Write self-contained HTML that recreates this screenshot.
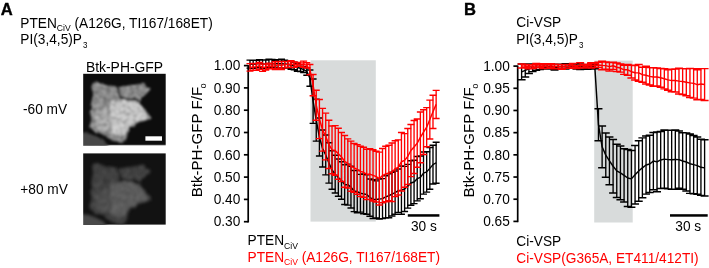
<!DOCTYPE html>
<html><head><meta charset="utf-8"><style>
html,body{margin:0;padding:0;background:#fff;width:709px;height:268px;overflow:hidden}
svg{display:block;will-change:transform}
text{font-family:"Liberation Sans",sans-serif}
</style></head><body>
<svg width="709" height="268" viewBox="0 0 709 268" font-family="Liberation Sans, sans-serif">
<defs><filter id="bl1" x="-10%" y="-10%" width="120%" height="120%"><feGaussianBlur stdDeviation="1.6"/></filter><filter id="bl2" x="-10%" y="-10%" width="120%" height="120%"><feGaussianBlur stdDeviation="2.2"/></filter></defs>
<rect width="709" height="268" fill="#fff"/>
<text transform="translate(0.7,14.9) scale(1,1.04)" font-size="16.6" font-weight="bold" stroke="#000" stroke-width="0.35">A</text>
<text transform="translate(464.1,14.9) scale(1,1.04)" font-size="16.6" font-weight="bold" stroke="#000" stroke-width="0.35">B</text>
<text transform="translate(20.3,27.7) scale(1,1.04)" font-size="13.7">PTEN<tspan font-size="8.6" dy="3.3">CiV</tspan><tspan dy="-3.3"> (A126G, TI167/168ET)</tspan></text>
<text transform="translate(20.3,43.8) scale(1,1.04)" font-size="13.7">PI(3,4,5)P<tspan font-size="8" dy="3.9" dx="1">3</tspan></text>
<text transform="translate(516.3,27.3) scale(1,1.04)" font-size="13.7">Ci-VSP</text>
<text transform="translate(516.3,44.4) scale(1,1.04)" font-size="13.7">PI(3,4,5)P<tspan font-size="8" dy="3.9" dx="1">3</tspan></text>
<text transform="translate(124.5,71.8) scale(1,1.04)" font-size="13.9" text-anchor="middle">Btk-PH-GFP</text>
<text transform="translate(23,113.8) scale(1,1.04)" font-size="13.7">-60 mV</text>
<text transform="translate(20.3,193.8) scale(1,1.04)" font-size="13.7">+80 mV</text>
<svg x="83.2" y="73.8" width="82.6" height="71.3" viewBox="0 0 82.6 71.3" overflow="hidden">
<defs><filter id="c1" x="-20%" y="-20%" width="140%" height="140%"><feTurbulence type="fractalNoise" baseFrequency="0.12" numOctaves="2" seed="7" result="t"/><feDisplacementMap in="SourceGraphic" in2="t" scale="5" xChannelSelector="R" yChannelSelector="G" result="d"/><feGaussianBlur in="d" stdDeviation="1.1"/></filter><filter id="c1n" x="0" y="0" width="100%" height="100%"><feTurbulence type="fractalNoise" baseFrequency="0.3" numOctaves="2" seed="3"/><feColorMatrix type="matrix" values="0 0 0 0 1  0 0 0 0 1  0 0 0 0 1  2.2 0 0 0 -1.0"/><feGaussianBlur stdDeviation="0.5"/></filter><filter id="c1m" x="0" y="0" width="100%" height="100%"><feTurbulence type="fractalNoise" baseFrequency="0.3" numOctaves="2" seed="3"/><feColorMatrix type="matrix" values="0 0 0 0 0  0 0 0 0 0  0 0 0 0 0  -2.2 0 0 0 1.2"/><feGaussianBlur stdDeviation="0.5"/></filter><clipPath id="c1c"><polygon points="11.2,6.9 16.8,9.4 23.3,11.4 28.8,12.5 33.3,13.0 35.6,16.2 38.3,12.8 41.2,12.2 49.8,11.2 56.3,10.2 60.7,7.7 63.3,12.7 67.4,15.0 62.7,20.3 58.0,23.7 56.6,29.7 61.0,34.8 65.3,39.1 67.0,45.1 61.0,46.8 52.4,50.2 47.3,53.7 44.7,64.0 38.7,68.2 30.3,67.1 24.2,64.0 19.6,60.2 11.3,57.9 7.4,54.1 6.7,44.9 9.2,27.0 8.5,16.3"/></clipPath></defs>
<rect x="0" y="0" width="82.6" height="71.3" fill="#0d0d0d"/>
<g filter="url(#c1)">
<polygon points="-3.2,58.2 4.8,59.2 12.8,62.2 20.8,66.2 26.8,74.2 -3.2,74.2" fill="#464646"/>
<polygon points="11.2,6.9 16.8,9.4 23.3,11.4 28.8,12.5 33.3,13.0 35.6,16.2 38.3,12.8 41.2,12.2 49.8,11.2 56.3,10.2 60.7,7.7 63.3,12.7 67.4,15.0 62.7,20.3 58.0,23.7 56.6,29.7 61.0,34.8 65.3,39.1 67.0,45.1 61.0,46.8 52.4,50.2 47.3,53.7 44.7,64.0 38.7,68.2 30.3,67.1 24.2,64.0 19.6,60.2 11.3,57.9 7.4,54.1 6.7,44.9 9.2,27.0 8.5,16.3" fill="#8c8c8c"/>
<polygon points="35.8,13.2 41.2,12.2 49.8,11.2 56.3,10.2 60.7,7.7 63.3,12.7 67.4,15.0 62.7,20.3 58.0,23.7 56.3,27.2 44.8,24.7 37.8,23.7" fill="#8a8a8a"/>
<polygon points="28.8,27.2 41.8,25.7 54.8,28.2 59.8,34.2 63.8,40.2 62.8,45.2 52.8,48.2 45.8,52.2 42.8,60.2 35.8,63.2 28.8,59.2 24.8,50.2 25.8,36.2" fill="#c8c8c8"/>
<polygon points="12.8,38.2 24.8,32.2 28.8,44.2 26.8,56.2 16.8,57.2 10.8,50.2" fill="#aaaaaa"/>
<polyline points="34.3,12.7 36.3,18.2 37.2,23.7 45.2,24.8 56.0,27.7" stroke="#2d2d2d" stroke-width="2.8" fill="none"/>
<polyline points="16.8,23.2 22.8,25.2 28.8,27.2" stroke="#6e6e6e" stroke-width="1.5" fill="none"/>
<g clip-path="url(#c1c)" opacity="0.32"><rect x="0" y="0" width="82.6" height="71.3" filter="url(#c1n)"/><rect x="0" y="0" width="82.6" height="71.3" filter="url(#c1m)"/></g>
</g>
</svg>
<svg x="83.2" y="153.4" width="82.6" height="71.3" viewBox="0 0 82.6 71.3" overflow="hidden">
<defs><filter id="c2" x="-20%" y="-20%" width="140%" height="140%"><feTurbulence type="fractalNoise" baseFrequency="0.12" numOctaves="2" seed="7" result="t"/><feDisplacementMap in="SourceGraphic" in2="t" scale="5" xChannelSelector="R" yChannelSelector="G" result="d"/><feGaussianBlur in="d" stdDeviation="1.8"/></filter><filter id="c2n" x="0" y="0" width="100%" height="100%"><feTurbulence type="fractalNoise" baseFrequency="0.3" numOctaves="2" seed="3"/><feColorMatrix type="matrix" values="0 0 0 0 1  0 0 0 0 1  0 0 0 0 1  2.2 0 0 0 -1.0"/><feGaussianBlur stdDeviation="0.5"/></filter><filter id="c2m" x="0" y="0" width="100%" height="100%"><feTurbulence type="fractalNoise" baseFrequency="0.3" numOctaves="2" seed="3"/><feColorMatrix type="matrix" values="0 0 0 0 0  0 0 0 0 0  0 0 0 0 0  -2.2 0 0 0 1.2"/><feGaussianBlur stdDeviation="0.5"/></filter><clipPath id="c2c"><polygon points="11.2,8.9 16.8,11.4 23.3,13.4 28.8,14.5 33.3,15.0 35.6,18.2 38.3,14.8 41.2,14.2 49.8,13.2 56.3,12.2 60.7,9.7 63.3,14.7 67.4,17.0 62.7,22.3 58.0,25.7 56.6,31.7 61.0,36.8 65.3,41.1 67.0,47.1 61.0,48.8 52.4,52.2 47.3,55.7 44.7,66.0 38.7,70.2 30.3,69.1 24.2,66.0 19.6,62.2 11.3,59.9 7.4,56.1 6.7,46.9 9.2,29.0 8.5,18.3"/></clipPath></defs>
<rect x="0" y="0" width="82.6" height="71.3" fill="#121212"/>
<g filter="url(#c2)">
<polygon points="-3.2,60.2 4.8,61.2 12.8,64.2 20.8,68.2 26.8,76.2 -3.2,76.2" fill="#484848"/>
<polygon points="11.2,8.9 16.8,11.4 23.3,13.4 28.8,14.5 33.3,15.0 35.6,18.2 38.3,14.8 41.2,14.2 49.8,13.2 56.3,12.2 60.7,9.7 63.3,14.7 67.4,17.0 62.7,22.3 58.0,25.7 56.6,31.7 61.0,36.8 65.3,41.1 67.0,47.1 61.0,48.8 52.4,52.2 47.3,55.7 44.7,66.0 38.7,70.2 30.3,69.1 24.2,66.0 19.6,62.2 11.3,59.9 7.4,56.1 6.7,46.9 9.2,29.0 8.5,18.3" fill="#3f3f3f"/>
<polygon points="35.8,15.2 41.2,14.2 49.8,13.2 56.3,12.2 60.7,9.7 63.3,14.7 67.4,17.0 62.7,22.3 58.0,25.7 56.3,29.2 44.8,26.7 37.8,25.7" fill="#3e3e3e"/>
<polygon points="28.8,29.2 41.8,27.7 54.8,30.2 59.8,36.2 63.8,42.2 62.8,47.2 52.8,50.2 45.8,54.2 42.8,62.2 35.8,65.2 28.8,61.2 24.8,52.2 25.8,38.2" fill="#5a5a5a"/>
<polygon points="12.8,40.2 24.8,34.2 28.8,46.2 26.8,58.2 16.8,59.2 10.8,52.2" fill="#4c4c4c"/>
<polyline points="34.3,14.7 36.3,20.2 37.2,25.7 45.2,26.8 56.0,29.7" stroke="#141414" stroke-width="2.8" fill="none"/>
<polyline points="16.8,25.2 22.8,27.2 28.8,29.2" stroke="#313131" stroke-width="1.5" fill="none"/>
<g clip-path="url(#c2c)" opacity="0.15"><rect x="0" y="0" width="82.6" height="71.3" filter="url(#c2n)"/><rect x="0" y="0" width="82.6" height="71.3" filter="url(#c2m)"/></g>
</g>
</svg>
<rect x="145.4" y="136.3" width="16.6" height="4.4" fill="#fff"/>
<rect x="310.5" y="60.3" width="65.3" height="161.3" fill="#d8dbdb"/>
<path d="M248.2 65.1V222.5" stroke="#000" stroke-width="1.7" fill="none"/>
<path d="M243.90 65.60H248.2" stroke="#000" stroke-width="1.7"/>
<text transform="translate(240.30,70.30) scale(1,1.04)" text-anchor="end" font-size="13.7">1.00</text>
<path d="M243.90 87.90H248.2" stroke="#000" stroke-width="1.7"/>
<text transform="translate(240.30,92.60) scale(1,1.04)" text-anchor="end" font-size="13.7">0.90</text>
<path d="M243.90 110.20H248.2" stroke="#000" stroke-width="1.7"/>
<text transform="translate(240.30,114.90) scale(1,1.04)" text-anchor="end" font-size="13.7">0.80</text>
<path d="M243.90 132.50H248.2" stroke="#000" stroke-width="1.7"/>
<text transform="translate(240.30,137.20) scale(1,1.04)" text-anchor="end" font-size="13.7">0.70</text>
<path d="M243.90 154.80H248.2" stroke="#000" stroke-width="1.7"/>
<text transform="translate(240.30,159.50) scale(1,1.04)" text-anchor="end" font-size="13.7">0.60</text>
<path d="M243.90 177.10H248.2" stroke="#000" stroke-width="1.7"/>
<text transform="translate(240.30,181.80) scale(1,1.04)" text-anchor="end" font-size="13.7">0.50</text>
<path d="M243.90 199.40H248.2" stroke="#000" stroke-width="1.7"/>
<text transform="translate(240.30,204.10) scale(1,1.04)" text-anchor="end" font-size="13.7">0.40</text>
<path d="M243.90 221.70H248.2" stroke="#000" stroke-width="1.7"/>
<text transform="translate(240.30,226.40) scale(1,1.04)" text-anchor="end" font-size="13.7">0.30</text>
<path d="M250.00 60.10V68.14M253.16 60.16V68.33M256.31 60.31V67.68M259.46 59.64V66.92M262.62 60.04V68.17M265.77 60.02V67.70M268.93 59.32V67.49M272.08 59.59V68.13M275.24 60.43V67.21M278.39 59.73V67.93M281.55 59.29V68.24M284.70 60.13V67.90M287.86 60.64V67.74M291.01 61.18V69.29M294.17 62.34V69.77M297.32 63.54V71.31M300.48 64.89V71.59M303.63 66.77V72.45M306.79 67.65V75.18M309.94 70.01V86.19M313.10 78.91V123.35M316.25 99.12V141.14M319.41 117.94V156.08M322.56 130.07V167.02M325.72 135.04V174.86M328.88 142.69V183.10M332.03 150.79V189.31M335.19 155.16V193.08M338.34 159.03V196.18M341.50 161.75V199.16M344.65 164.80V204.56M347.81 164.13V205.10M350.96 166.30V208.04M354.12 170.55V211.61M357.27 170.59V212.72M360.43 174.39V212.10M363.58 174.01V213.75M366.74 174.82V214.28M369.89 179.00V216.16M373.04 179.67V218.55M376.20 180.85V218.08M379.36 178.90V219.14M382.51 178.63V218.64M385.66 175.81V217.92M388.82 173.78V217.70M391.98 172.17V216.01M395.13 171.00V214.17M398.28 169.04V212.35M401.44 166.00V214.24M404.60 166.36V211.44M407.75 164.38V208.10M410.90 160.82V205.21M414.06 160.25V203.63M417.22 156.44V200.85M420.37 156.05V198.71M423.52 152.01V194.11M426.68 151.66V192.11M429.83 147.50V189.26M432.99 145.20V184.07M436.14 142.22V183.28" stroke="#000000" stroke-width="1.35" fill="none"/>
<path d="M246.50 60.10h7M246.50 68.14h7M249.66 60.16h7M249.66 68.33h7M252.81 60.31h7M252.81 67.68h7M255.96 59.64h7M255.96 66.92h7M259.12 60.04h7M259.12 68.17h7M262.27 60.02h7M262.27 67.70h7M265.43 59.32h7M265.43 67.49h7M268.58 59.59h7M268.58 68.13h7M271.74 60.43h7M271.74 67.21h7M274.89 59.73h7M274.89 67.93h7M278.05 59.29h7M278.05 68.24h7M281.20 60.13h7M281.20 67.90h7M284.36 60.64h7M284.36 67.74h7M287.51 61.18h7M287.51 69.29h7M290.67 62.34h7M290.67 69.77h7M293.82 63.54h7M293.82 71.31h7M296.98 64.89h7M296.98 71.59h7M300.13 66.77h7M300.13 72.45h7M303.29 67.65h7M303.29 75.18h7M306.44 70.01h7M306.44 86.19h7M309.60 78.91h7M309.60 123.35h7M312.75 99.12h7M312.75 141.14h7M315.91 117.94h7M315.91 156.08h7M319.06 130.07h7M319.06 167.02h7M322.22 135.04h7M322.22 174.86h7M325.38 142.69h7M325.38 183.10h7M328.53 150.79h7M328.53 189.31h7M331.69 155.16h7M331.69 193.08h7M334.84 159.03h7M334.84 196.18h7M338.00 161.75h7M338.00 199.16h7M341.15 164.80h7M341.15 204.56h7M344.31 164.13h7M344.31 205.10h7M347.46 166.30h7M347.46 208.04h7M350.62 170.55h7M350.62 211.61h7M353.77 170.59h7M353.77 212.72h7M356.93 174.39h7M356.93 212.10h7M360.08 174.01h7M360.08 213.75h7M363.24 174.82h7M363.24 214.28h7M366.39 179.00h7M366.39 216.16h7M369.54 179.67h7M369.54 218.55h7M372.70 180.85h7M372.70 218.08h7M375.86 178.90h7M375.86 219.14h7M379.01 178.63h7M379.01 218.64h7M382.16 175.81h7M382.16 217.92h7M385.32 173.78h7M385.32 217.70h7M388.48 172.17h7M388.48 216.01h7M391.63 171.00h7M391.63 214.17h7M394.78 169.04h7M394.78 212.35h7M397.94 166.00h7M397.94 214.24h7M401.10 166.36h7M401.10 211.44h7M404.25 164.38h7M404.25 208.10h7M407.40 160.82h7M407.40 205.21h7M410.56 160.25h7M410.56 203.63h7M413.72 156.44h7M413.72 200.85h7M416.87 156.05h7M416.87 198.71h7M420.02 152.01h7M420.02 194.11h7M423.18 151.66h7M423.18 192.11h7M426.33 147.50h7M426.33 189.26h7M429.49 145.20h7M429.49 184.07h7M432.64 142.22h7M432.64 183.28h7" stroke="#000000" stroke-width="1.45" fill="none"/>
<path d="M250.00 64.12 L253.16 64.25 L256.31 63.99 L259.46 63.28 L262.62 64.10 L265.77 63.86 L268.93 63.41 L272.08 63.86 L275.24 63.82 L278.39 63.83 L281.55 63.77 L284.70 64.01 L287.86 64.19 L291.01 65.24 L294.17 66.05 L297.32 67.43 L300.48 68.24 L303.63 69.61 L306.79 71.42 L309.94 78.10 L313.10 101.13 L316.25 120.13 L319.41 137.01 L322.56 148.54 L325.72 154.95 L328.88 162.89 L332.03 170.05 L335.19 174.12 L338.34 177.60 L341.50 180.46 L344.65 184.68 L347.81 184.61 L350.96 187.17 L354.12 191.08 L357.27 191.65 L360.43 193.24 L363.58 193.88 L366.74 194.55 L369.89 197.58 L373.04 199.11 L376.20 199.46 L379.36 199.02 L382.51 198.63 L385.66 196.86 L388.82 195.74 L391.98 194.09 L395.13 192.58 L398.28 190.69 L401.44 190.12 L404.60 188.90 L407.75 186.24 L410.90 183.02 L414.06 181.94 L417.22 178.64 L420.37 177.38 L423.52 173.06 L426.68 171.89 L429.83 168.38 L432.99 164.63 L436.14 162.75" stroke="#000000" stroke-width="1.45" fill="none" stroke-linejoin="round"/>
<path d="M250.00 63.61V71.12M253.16 63.53V70.33M256.31 63.50V70.29M259.46 62.39V69.20M262.62 63.92V71.35M265.77 64.04V69.95M268.93 63.22V68.67M272.08 63.89V68.46M275.24 61.72V69.51M278.39 61.53V68.23M281.55 61.42V69.40M284.70 61.36V67.86M287.86 61.58V67.31M291.01 60.75V67.42M294.17 61.90V67.39M297.32 62.47V66.14M300.48 62.87V66.37M303.63 61.10V67.33M306.79 62.74V67.97M309.94 64.50V74.66M313.10 74.52V95.70M316.25 90.17V120.24M319.41 99.53V138.62M322.56 108.38V151.11M325.72 113.13V159.85M328.88 120.25V168.51M332.03 125.97V173.79M335.19 125.63V175.16M338.34 128.24V179.34M341.50 132.51V181.51M344.65 135.59V187.31M347.81 138.85V188.04M350.96 141.12V191.31M354.12 143.42V192.38M357.27 144.60V194.32M360.43 146.33V196.46M363.58 147.27V197.32M366.74 149.27V199.50M369.89 148.66V199.45M373.04 149.80V200.93M376.20 151.30V201.94M379.36 152.13V205.06M382.51 148.47V202.75M385.66 146.30V201.70M388.82 145.33V200.78M391.98 142.98V201.41M395.13 140.80V196.62M398.28 139.87V194.99M401.44 132.56V190.99M404.60 133.62V187.16M407.75 128.59V184.47M410.90 124.40V176.61M414.06 120.58V173.49M417.22 119.09V167.21M420.37 111.94V162.80M423.52 109.69V154.51M426.68 107.64V146.78M429.83 100.10V138.97M432.99 95.19V128.41M436.14 90.35V118.42" stroke="#ff0000" stroke-width="1.35" fill="none"/>
<path d="M246.50 63.61h7M246.50 71.12h7M249.66 63.53h7M249.66 70.33h7M252.81 63.50h7M252.81 70.29h7M255.96 62.39h7M255.96 69.20h7M259.12 63.92h7M259.12 71.35h7M262.27 64.04h7M262.27 69.95h7M265.43 63.22h7M265.43 68.67h7M268.58 63.89h7M268.58 68.46h7M271.74 61.72h7M271.74 69.51h7M274.89 61.53h7M274.89 68.23h7M278.05 61.42h7M278.05 69.40h7M281.20 61.36h7M281.20 67.86h7M284.36 61.58h7M284.36 67.31h7M287.51 60.75h7M287.51 67.42h7M290.67 61.90h7M290.67 67.39h7M293.82 62.47h7M293.82 66.14h7M296.98 62.87h7M296.98 66.37h7M300.13 61.10h7M300.13 67.33h7M303.29 62.74h7M303.29 67.97h7M306.44 64.50h7M306.44 74.66h7M309.60 74.52h7M309.60 95.70h7M312.75 90.17h7M312.75 120.24h7M315.91 99.53h7M315.91 138.62h7M319.06 108.38h7M319.06 151.11h7M322.22 113.13h7M322.22 159.85h7M325.38 120.25h7M325.38 168.51h7M328.53 125.97h7M328.53 173.79h7M331.69 125.63h7M331.69 175.16h7M334.84 128.24h7M334.84 179.34h7M338.00 132.51h7M338.00 181.51h7M341.15 135.59h7M341.15 187.31h7M344.31 138.85h7M344.31 188.04h7M347.46 141.12h7M347.46 191.31h7M350.62 143.42h7M350.62 192.38h7M353.77 144.60h7M353.77 194.32h7M356.93 146.33h7M356.93 196.46h7M360.08 147.27h7M360.08 197.32h7M363.24 149.27h7M363.24 199.50h7M366.39 148.66h7M366.39 199.45h7M369.54 149.80h7M369.54 200.93h7M372.70 151.30h7M372.70 201.94h7M375.86 152.13h7M375.86 205.06h7M379.01 148.47h7M379.01 202.75h7M382.16 146.30h7M382.16 201.70h7M385.32 145.33h7M385.32 200.78h7M388.48 142.98h7M388.48 201.41h7M391.63 140.80h7M391.63 196.62h7M394.78 139.87h7M394.78 194.99h7M397.94 132.56h7M397.94 190.99h7M401.10 133.62h7M401.10 187.16h7M404.25 128.59h7M404.25 184.47h7M407.40 124.40h7M407.40 176.61h7M410.56 120.58h7M410.56 173.49h7M413.72 119.09h7M413.72 167.21h7M416.87 111.94h7M416.87 162.80h7M420.02 109.69h7M420.02 154.51h7M423.18 107.64h7M423.18 146.78h7M426.33 100.10h7M426.33 138.97h7M429.49 95.19h7M429.49 128.41h7M432.64 90.35h7M432.64 118.42h7" stroke="#ff0000" stroke-width="1.45" fill="none"/>
<path d="M250.00 67.37 L253.16 66.93 L256.31 66.89 L259.46 65.79 L262.62 67.64 L265.77 66.99 L268.93 65.94 L272.08 66.18 L275.24 65.62 L278.39 64.88 L281.55 65.41 L284.70 64.61 L287.86 64.44 L291.01 64.08 L294.17 64.64 L297.32 64.30 L300.48 64.62 L303.63 64.21 L306.79 65.35 L309.94 69.58 L313.10 85.11 L316.25 105.21 L319.41 119.07 L322.56 129.74 L325.72 136.49 L328.88 144.38 L332.03 149.88 L335.19 150.39 L338.34 153.79 L341.50 157.01 L344.65 161.45 L347.81 163.44 L350.96 166.21 L354.12 167.90 L357.27 169.46 L360.43 171.40 L363.58 172.30 L366.74 174.39 L369.89 174.05 L373.04 175.36 L376.20 176.62 L379.36 178.59 L382.51 175.61 L385.66 174.00 L388.82 173.06 L391.98 172.20 L395.13 168.71 L398.28 167.43 L401.44 161.77 L404.60 160.39 L407.75 156.53 L410.90 150.51 L414.06 147.03 L417.22 143.15 L420.37 137.37 L423.52 132.10 L426.68 127.21 L429.83 119.53 L432.99 111.80 L436.14 104.38" stroke="#ff0000" stroke-width="1.45" fill="none" stroke-linejoin="round"/>
<rect x="407.8" y="214.2" width="31.6" height="2.5" fill="#000"/>
<text transform="translate(411,230.6) scale(1,1.04)" font-size="13.7">30 s</text>
<text transform="translate(201.7,197.3) rotate(-90) scale(1.095,1.04)" font-size="13.8">Btk-PH-GFP F/F<tspan font-size="7.8" dy="3.9" dx="-1.2">0</tspan></text>
<text transform="translate(247.5,245.1) scale(1,1.04)" font-size="13.7">PTEN<tspan font-size="8.6" dy="3.3">CiV</tspan></text>
<text transform="translate(247.5,262) scale(1,1.04)" font-size="13.7" fill="#ff0000">PTEN<tspan font-size="8.6" dy="3.3">CiV</tspan><tspan dy="-3.3"> (A126G, TI167/168ET)</tspan></text>
<rect x="594.2" y="60.6" width="38.5" height="161.9" fill="#d8dbdb"/>
<path d="M517.7 65.6V222.20000000000002" stroke="#000" stroke-width="1.7" fill="none"/>
<path d="M513.40 66.10H517.7" stroke="#000" stroke-width="1.7"/>
<text transform="translate(509.80,70.80) scale(1,1.04)" text-anchor="end" font-size="13.7">1.00</text>
<path d="M513.40 88.29H517.7" stroke="#000" stroke-width="1.7"/>
<text transform="translate(509.80,92.99) scale(1,1.04)" text-anchor="end" font-size="13.7">0.95</text>
<path d="M513.40 110.47H517.7" stroke="#000" stroke-width="1.7"/>
<text transform="translate(509.80,115.17) scale(1,1.04)" text-anchor="end" font-size="13.7">0.90</text>
<path d="M513.40 132.66H517.7" stroke="#000" stroke-width="1.7"/>
<text transform="translate(509.80,137.36) scale(1,1.04)" text-anchor="end" font-size="13.7">0.85</text>
<path d="M513.40 154.84H517.7" stroke="#000" stroke-width="1.7"/>
<text transform="translate(509.80,159.54) scale(1,1.04)" text-anchor="end" font-size="13.7">0.80</text>
<path d="M513.40 177.03H517.7" stroke="#000" stroke-width="1.7"/>
<text transform="translate(509.80,181.73) scale(1,1.04)" text-anchor="end" font-size="13.7">0.75</text>
<path d="M513.40 199.21H517.7" stroke="#000" stroke-width="1.7"/>
<text transform="translate(509.80,203.91) scale(1,1.04)" text-anchor="end" font-size="13.7">0.70</text>
<path d="M513.40 221.40H517.7" stroke="#000" stroke-width="1.7"/>
<text transform="translate(509.80,226.10) scale(1,1.04)" text-anchor="end" font-size="13.7">0.65</text>
<path d="M521.60 64.00V79.80M525.26 63.90V76.93M528.92 64.10V73.49M532.58 64.00V71.61M536.24 64.20V70.19M539.90 64.18V69.64M543.56 64.07V67.67M547.22 63.96V69.00M550.88 63.68V68.63M554.54 66.43V70.06M558.20 64.31V69.06M561.86 64.34V68.44M565.52 63.78V69.06M569.18 64.52V67.91M572.84 63.93V68.11M576.50 63.66V69.02M580.16 63.91V69.64M583.82 64.75V68.05M587.48 64.71V69.27M591.14 63.80V69.02M594.80 64.25V68.77M598.46 108.75V140.74M602.12 125.90V167.67M605.78 133.08V177.32M609.44 136.97V184.67M613.10 139.53V193.01M616.76 144.34V197.51M620.42 145.93V199.67M624.08 148.78V201.95M627.74 149.52V206.41M631.40 150.51V207.21M635.06 145.58V203.99M638.72 140.68V201.17M642.38 137.88V197.74M646.04 135.95V194.11M649.70 135.32V192.58M653.36 132.40V189.76M657.02 132.03V191.78M660.68 131.42V188.44M664.34 130.06V188.15M668.00 130.32V188.88M671.66 130.15V189.31M675.32 129.88V189.24M678.98 131.06V188.23M682.64 132.81V189.24M686.30 132.88V191.06M689.96 134.00V193.39M693.62 135.42V193.80M697.28 136.96V194.22M700.94 139.24V195.36M704.60 139.72V196.07" stroke="#000000" stroke-width="1.35" fill="none"/>
<path d="M517.60 64.00h8M517.60 79.80h8M521.26 63.90h8M521.26 76.93h8M524.92 64.10h8M524.92 73.49h8M528.58 64.00h8M528.58 71.61h8M532.24 64.20h8M532.24 70.19h8M535.90 64.18h8M535.90 69.64h8M539.56 64.07h8M539.56 67.67h8M543.22 63.96h8M543.22 69.00h8M546.88 63.68h8M546.88 68.63h8M550.54 66.43h8M550.54 70.06h8M554.20 64.31h8M554.20 69.06h8M557.86 64.34h8M557.86 68.44h8M561.52 63.78h8M561.52 69.06h8M565.18 64.52h8M565.18 67.91h8M568.84 63.93h8M568.84 68.11h8M572.50 63.66h8M572.50 69.02h8M576.16 63.91h8M576.16 69.64h8M579.82 64.75h8M579.82 68.05h8M583.48 64.71h8M583.48 69.27h8M587.14 63.80h8M587.14 69.02h8M590.80 64.25h8M590.80 68.77h8M594.46 108.75h8M594.46 140.74h8M598.12 125.90h8M598.12 167.67h8M601.78 133.08h8M601.78 177.32h8M605.44 136.97h8M605.44 184.67h8M609.10 139.53h8M609.10 193.01h8M612.76 144.34h8M612.76 197.51h8M616.42 145.93h8M616.42 199.67h8M620.08 148.78h8M620.08 201.95h8M623.74 149.52h8M623.74 206.41h8M627.40 150.51h8M627.40 207.21h8M631.06 145.58h8M631.06 203.99h8M634.72 140.68h8M634.72 201.17h8M638.38 137.88h8M638.38 197.74h8M642.04 135.95h8M642.04 194.11h8M645.70 135.32h8M645.70 192.58h8M649.36 132.40h8M649.36 189.76h8M653.02 132.03h8M653.02 191.78h8M656.68 131.42h8M656.68 188.44h8M660.34 130.06h8M660.34 188.15h8M664.00 130.32h8M664.00 188.88h8M667.66 130.15h8M667.66 189.31h8M671.32 129.88h8M671.32 189.24h8M674.98 131.06h8M674.98 188.23h8M678.64 132.81h8M678.64 189.24h8M682.30 132.88h8M682.30 191.06h8M685.96 134.00h8M685.96 193.39h8M689.62 135.42h8M689.62 193.80h8M693.28 136.96h8M693.28 194.22h8M696.94 139.24h8M696.94 195.36h8M700.60 139.72h8M700.60 196.07h8" stroke="#000000" stroke-width="1.45" fill="none"/>
<path d="M521.60 71.90 L525.26 70.42 L528.92 68.79 L532.58 67.81 L536.24 67.20 L539.90 66.91 L543.56 65.87 L547.22 66.48 L550.88 66.16 L554.54 68.24 L558.20 66.69 L561.86 66.39 L565.52 66.42 L569.18 66.22 L572.84 66.02 L576.50 66.34 L580.16 66.77 L583.82 66.40 L587.48 66.99 L591.14 66.41 L594.80 66.51 L598.46 124.74 L602.12 146.79 L605.78 155.20 L609.44 160.82 L613.10 166.27 L616.76 170.92 L620.42 172.80 L624.08 175.36 L627.74 177.97 L631.40 178.86 L635.06 174.78 L638.72 170.93 L642.38 167.81 L646.04 165.03 L649.70 163.95 L653.36 161.08 L657.02 161.90 L660.68 159.93 L664.34 159.10 L668.00 159.60 L671.66 159.73 L675.32 159.56 L678.98 159.65 L682.64 161.03 L686.30 161.97 L689.96 163.69 L693.62 164.61 L697.28 165.59 L700.94 167.30 L704.60 167.90" stroke="#000000" stroke-width="1.45" fill="none" stroke-linejoin="round"/>
<path d="M521.60 63.90V67.98M525.26 64.54V67.76M528.92 65.12V68.69M532.58 64.62V68.43M536.24 63.48V67.77M539.90 64.82V67.77M543.56 63.72V68.41M547.22 64.61V68.18M550.88 63.75V67.67M554.54 64.28V68.65M558.20 64.36V68.61M561.86 64.72V69.25M565.52 64.44V68.36M569.18 64.50V68.29M572.84 63.49V67.52M576.50 65.38V68.46M580.16 62.83V67.51M583.82 64.68V67.91M587.48 64.21V67.07M591.14 62.66V68.01M594.80 63.49V67.19M598.46 62.34V67.48M602.12 61.10V69.68M605.78 62.05V69.17M609.44 62.43V70.90M613.10 62.15V69.36M616.76 63.09V71.41M620.42 63.93V72.14M624.08 65.29V74.39M627.74 64.36V75.29M631.40 65.30V78.05M635.06 65.50V80.03M638.72 64.43V81.37M642.38 67.21V82.20M646.04 66.30V84.08M649.70 67.64V85.03M653.36 67.79V86.32M657.02 67.97V86.05M660.68 68.42V87.22M664.34 68.71V88.87M668.00 69.65V90.15M671.66 69.34V91.84M675.32 69.05V91.98M678.98 68.17V94.04M682.64 68.61V94.55M686.30 68.69V95.74M689.96 68.35V97.44M693.62 68.62V98.12M697.28 69.69V99.65M700.94 68.62V99.52M704.60 68.64V100.52" stroke="#ff0000" stroke-width="1.35" fill="none"/>
<path d="M517.60 63.90h8M517.60 67.98h8M521.26 64.54h8M521.26 67.76h8M524.92 65.12h8M524.92 68.69h8M528.58 64.62h8M528.58 68.43h8M532.24 63.48h8M532.24 67.77h8M535.90 64.82h8M535.90 67.77h8M539.56 63.72h8M539.56 68.41h8M543.22 64.61h8M543.22 68.18h8M546.88 63.75h8M546.88 67.67h8M550.54 64.28h8M550.54 68.65h8M554.20 64.36h8M554.20 68.61h8M557.86 64.72h8M557.86 69.25h8M561.52 64.44h8M561.52 68.36h8M565.18 64.50h8M565.18 68.29h8M568.84 63.49h8M568.84 67.52h8M572.50 65.38h8M572.50 68.46h8M576.16 62.83h8M576.16 67.51h8M579.82 64.68h8M579.82 67.91h8M583.48 64.21h8M583.48 67.07h8M587.14 62.66h8M587.14 68.01h8M590.80 63.49h8M590.80 67.19h8M594.46 62.34h8M594.46 67.48h8M598.12 61.10h8M598.12 69.68h8M601.78 62.05h8M601.78 69.17h8M605.44 62.43h8M605.44 70.90h8M609.10 62.15h8M609.10 69.36h8M612.76 63.09h8M612.76 71.41h8M616.42 63.93h8M616.42 72.14h8M620.08 65.29h8M620.08 74.39h8M623.74 64.36h8M623.74 75.29h8M627.40 65.30h8M627.40 78.05h8M631.06 65.50h8M631.06 80.03h8M634.72 64.43h8M634.72 81.37h8M638.38 67.21h8M638.38 82.20h8M642.04 66.30h8M642.04 84.08h8M645.70 67.64h8M645.70 85.03h8M649.36 67.79h8M649.36 86.32h8M653.02 67.97h8M653.02 86.05h8M656.68 68.42h8M656.68 87.22h8M660.34 68.71h8M660.34 88.87h8M664.00 69.65h8M664.00 90.15h8M667.66 69.34h8M667.66 91.84h8M671.32 69.05h8M671.32 91.98h8M674.98 68.17h8M674.98 94.04h8M678.64 68.61h8M678.64 94.55h8M682.30 68.69h8M682.30 95.74h8M685.96 68.35h8M685.96 97.44h8M689.62 68.62h8M689.62 98.12h8M693.28 69.69h8M693.28 99.65h8M696.94 68.62h8M696.94 99.52h8M700.60 68.64h8M700.60 100.52h8" stroke="#ff0000" stroke-width="1.45" fill="none"/>
<path d="M521.60 65.94 L525.26 66.15 L528.92 66.91 L532.58 66.52 L536.24 65.62 L539.90 66.29 L543.56 66.07 L547.22 66.39 L550.88 65.71 L554.54 66.47 L558.20 66.48 L561.86 66.99 L565.52 66.40 L569.18 66.39 L572.84 65.51 L576.50 66.92 L580.16 65.17 L583.82 66.29 L587.48 65.64 L591.14 65.33 L594.80 65.34 L598.46 64.91 L602.12 65.39 L605.78 65.61 L609.44 66.66 L613.10 65.75 L616.76 67.25 L620.42 68.03 L624.08 69.84 L627.74 69.82 L631.40 71.68 L635.06 72.76 L638.72 72.90 L642.38 74.70 L646.04 75.19 L649.70 76.34 L653.36 77.06 L657.02 77.01 L660.68 77.82 L664.34 78.79 L668.00 79.90 L671.66 80.59 L675.32 80.51 L678.98 81.10 L682.64 81.58 L686.30 82.21 L689.96 82.90 L693.62 83.37 L697.28 84.67 L700.94 84.07 L704.60 84.58" stroke="#ff0000" stroke-width="1.45" fill="none" stroke-linejoin="round"/>
<rect x="670" y="214.2" width="37.7" height="2.5" fill="#000"/>
<text transform="translate(675.3,230.6) scale(1,1.04)" font-size="13.7">30 s</text>
<text transform="translate(473.8,197.6) rotate(-90) scale(1.095,1.04)" font-size="13.8">Btk-PH-GFP F/F<tspan font-size="7.8" dy="3.9" dx="-1.2">0</tspan></text>
<text transform="translate(516.3,246) scale(1,1.04)" font-size="13.7">Ci-VSP</text>
<text transform="translate(516.3,263.3) scale(1,1.04)" font-size="13.7" fill="#ff0000">Ci-VSP(G365A, ET411/412TI)</text>
</svg>
</body></html>
